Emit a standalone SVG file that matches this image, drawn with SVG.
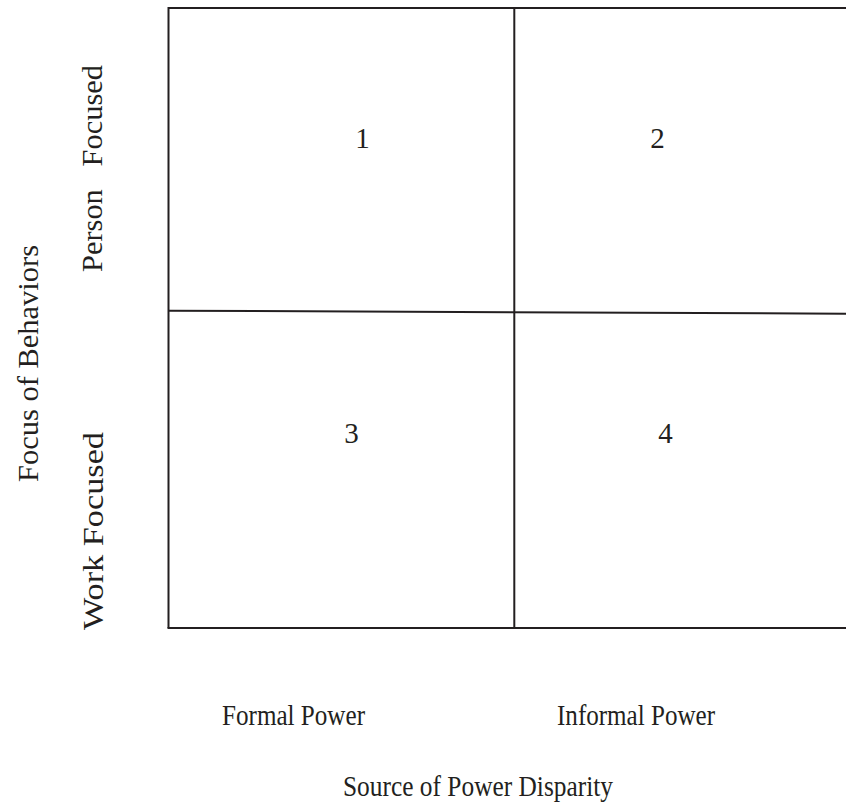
<svg xmlns="http://www.w3.org/2000/svg" width="846" height="803" viewBox="0 0 846 803">
<style>
.ln{stroke:#231f20;stroke-width:2;fill:none}
.t{fill:#231f20;font-size:29px}
</style>
<rect width="846" height="803" fill="#fff"/>
<g id="grid">
<line class="ln" x1="168.5" y1="8" x2="846" y2="8"/>
<line class="ln" x1="168.5" y1="7" x2="168.5" y2="628"/>
<line class="ln" x1="167.5" y1="628" x2="846" y2="628"/>
<line class="ln" x1="514.3" y1="8" x2="514.3" y2="628"/>
<line class="ln" x1="168.5" y1="310.7" x2="846" y2="313.7"/>
</g>
<g font-family="Liberation Serif, DejaVu Serif, serif">
<g id="q1"><text class="t" x="362.5" y="148" text-anchor="middle">1</text></g>
<g id="q2"><text class="t" x="657.5" y="148" text-anchor="middle">2</text></g>
<g id="q3"><text class="t" x="351.5" y="443" text-anchor="middle">3</text></g>
<g id="q4"><text class="t" x="665.5" y="443" text-anchor="middle">4</text></g>
<g id="axis-x">
<text class="t" x="222" y="725" textLength="143" lengthAdjust="spacingAndGlyphs">Formal Power</text>
<text class="t" x="557" y="725" textLength="158" lengthAdjust="spacingAndGlyphs">Informal Power</text>
<text class="t" x="343" y="796" textLength="270" lengthAdjust="spacingAndGlyphs">Source of Power Disparity</text>
</g>
<g id="axis-y">
<text class="t" transform="translate(102,272) rotate(-90)" textLength="207" lengthAdjust="spacingAndGlyphs" xml:space="preserve">Person   Focused</text>
<text class="t" transform="translate(103,630) rotate(-90)" textLength="198" lengthAdjust="spacingAndGlyphs">Work Focused</text>
<text class="t" transform="translate(38,482) rotate(-90)" textLength="237" lengthAdjust="spacingAndGlyphs">Focus of Behaviors</text>
</g>
</g>
</svg>
